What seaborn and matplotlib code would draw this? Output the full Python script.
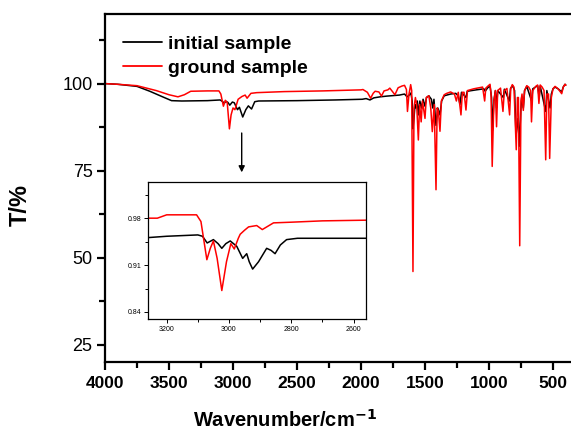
import numpy as np
import pandas as pd
import matplotlib
matplotlib.use("Agg")
import matplotlib.pyplot as plt
from matplotlib.ticker import FixedLocator
import seaborn as sns

# ---------------- data ----------------
initial_wn = [4000, 3900, 3750, 3650, 3550, 3480, 3400, 3200, 3100, 3080, 3070, 3055, 3040, 3025,
              3005, 2990, 2965, 2950, 2924, 2900, 2880, 2855, 2830, 2800, 2500, 2200, 1990, 1960,
              1930, 1900, 1850, 1800, 1700, 1660, 1640, 1620, 1610, 1600, 1594, 1586, 1578, 1570,
              1560, 1552, 1540, 1528, 1515, 1500, 1488, 1470, 1450, 1440, 1430, 1414, 1400, 1383,
              1370, 1350, 1300, 1260, 1240, 1227, 1215, 1180, 1170, 1100, 1040, 1030, 1010, 992,
              980, 972, 962, 950, 941, 932, 888, 880, 841, 832, 815, 800, 789, 780, 772, 763,
              752, 745, 732, 722, 705, 667, 658, 620, 608, 600, 557, 548, 523, 513, 500, 484,
              460, 432, 420, 406, 400]
initial_T = [100, 99.8, 99.2, 97.8, 96.2, 95.1, 95.0, 95.1, 95.3, 94.8, 94.3, 94.9, 94.6, 93.8,
             94.7, 94.5, 92.5, 93.2, 90.4, 92.5, 93.6, 92.7, 94.8, 95.0, 95.1, 95.3, 95.5, 95.7,
             95.3, 95.9, 96.2, 96.4, 96.7, 97.0, 96.2, 96.8, 97.3, 95.0, 87.0, 90.0, 94.0, 93.0,
             95.0, 91.0, 95.0, 93.0, 95.5, 93.5, 96.0, 96.5, 95.5, 93.0, 95.5, 88.0, 93.0, 91.0,
             95.0, 96.5, 97.0, 97.2, 96.5, 94.0, 97.5, 96.0, 97.8, 98.2, 98.5, 97.8, 98.8, 99.3,
             96.0, 86.6, 95.0, 98.0, 93.0, 98.0, 96.0, 98.4, 95.0, 98.6, 99.4, 98.0, 85.0, 88.0,
             90.0, 82.0, 92.0, 96.0, 93.0, 98.0, 99.2, 95.0, 98.5, 99.4, 96.0, 99.3, 92.0, 98.0,
             93.0, 97.0, 98.5, 99.0, 98.5, 97.6, 99.0, 99.8, 99.6]

ground_wn = [4000, 3900, 3750, 3600, 3500, 3430, 3380, 3330, 3200, 3110, 3095, 3075, 3060, 3045,
             3028, 3015, 3000, 2985, 2960, 2930, 2905, 2890, 2860, 2815, 2600, 2300, 2000, 1985,
             1950, 1925, 1905, 1890, 1860, 1840, 1820, 1790, 1775, 1750, 1735, 1710, 1680, 1660,
             1645, 1637, 1625, 1612, 1604, 1594, 1586, 1575, 1565, 1552, 1542, 1530, 1520, 1500,
             1490, 1470, 1455, 1443, 1428, 1414, 1405, 1395, 1383, 1372, 1350, 1330, 1300, 1270,
             1255, 1240, 1219, 1208, 1195, 1180, 1168, 1120, 1080, 1050, 1034, 1025, 1005, 992,
             984, 975, 962, 950, 941, 932, 910, 891, 880, 860, 839, 830, 818, 805, 787, 778,
             770, 760, 750, 742, 732, 722, 705, 690, 675, 668, 658, 635, 620, 610, 600, 585,
             570, 557, 548, 535, 526, 513, 500, 484, 460, 440, 432, 420, 406, 400]
ground_T = [100, 99.8, 99.4, 98.0, 96.8, 96.2, 96.8, 97.8, 97.9, 97.9, 97.0, 93.5, 95.2, 94.5,
            87.0, 91.0, 93.0, 92.5, 95.5, 96.3, 96.7, 95.8, 97.2, 97.4, 97.7, 97.9, 98.2, 98.3,
            97.5, 95.8, 97.2, 97.8, 97.6, 96.4, 97.9, 98.2, 98.7, 97.5, 96.8, 98.8, 99.3, 99.5,
            98.3, 92.0, 97.0, 99.7, 98.0, 46.0, 93.0, 96.0, 94.0, 83.8, 94.0, 89.0, 95.0, 90.0,
            96.0, 96.5, 93.0, 86.2, 94.0, 69.5, 93.0, 92.0, 86.3, 95.0, 96.8, 97.2, 97.6, 97.0,
            95.0, 97.5, 91.0, 97.5, 97.5, 92.4, 98.0, 98.5, 98.8, 99.0, 95.0, 98.7, 99.4, 99.8,
            97.0, 76.2, 95.0, 98.0, 87.6, 98.0, 98.7, 92.0, 98.0, 98.6, 91.0, 98.6, 99.7, 99.0,
            81.0, 96.0, 96.0, 53.4, 95.0, 97.0, 92.3, 98.0, 99.4, 99.0, 98.0, 89.0, 98.0, 99.2,
            99.6, 94.3, 99.6, 99.0, 98.0, 78.1, 97.0, 97.0, 78.5, 96.0, 98.5, 99.2, 98.5, 97.5,
            97.1, 99.0, 99.8, 99.5]

# inset (2560-3260 cm-1)
inset_initial_wn = [3260, 3200, 3100, 3085, 3070, 3050, 3035, 3023, 3010, 2996, 2975, 2956, 2943,
                    2935, 2924, 2905, 2879, 2865, 2852, 2835, 2815, 2780, 2700, 2560]
inset_initial_T = [0.951, 0.953, 0.955, 0.953, 0.943, 0.948, 0.942, 0.935, 0.942, 0.946, 0.938,
                   0.920, 0.927, 0.915, 0.904, 0.915, 0.935, 0.932, 0.927, 0.940, 0.948, 0.950,
                   0.950, 0.950]
inset_ground_wn = [3260, 3230, 3200, 3150, 3104, 3090, 3080, 3071, 3060, 3050, 3038, 3023, 3008,
                   2994, 2983, 2970, 2964, 2950, 2937, 2911, 2893, 2875, 2857, 2800, 2700, 2560]
inset_ground_T = [0.980, 0.980, 0.985, 0.985, 0.985, 0.975, 0.945, 0.918, 0.935, 0.946, 0.920,
                  0.872, 0.915, 0.942, 0.934, 0.950, 0.956, 0.962, 0.967, 0.969, 0.963, 0.968,
                  0.973, 0.974, 0.976, 0.977]

labels = ["initial sample", "ground sample"]
colors = {"initial sample": "black", "ground sample": "#ff0000"}

main_df = pd.concat([
    pd.DataFrame({"wn": initial_wn, "T": initial_T, "sample": labels[0]}),
    pd.DataFrame({"wn": ground_wn, "T": ground_T, "sample": labels[1]}),
], ignore_index=True)
inset_df = pd.concat([
    pd.DataFrame({"wn": inset_initial_wn, "T": inset_initial_T, "sample": labels[0]}),
    pd.DataFrame({"wn": inset_ground_wn, "T": inset_ground_T, "sample": labels[1]}),
], ignore_index=True)

# ---------------- figure ----------------
sns.set_style("ticks")
plt.rcParams["font.family"] = ["Liberation Sans", "DejaVu Sans"]
plt.rcParams.update({"text.color": "black", "axes.labelcolor": "black",
                     "xtick.color": "black", "ytick.color": "black",
                     "axes.edgecolor": "black"})

W, H = 571, 432
fig = plt.figure(figsize=(W / 100, H / 100), dpi=100)
ax = fig.add_axes([105 / W, 1 - 362 / H, 467.2 / W, 348 / H])

sns.lineplot(data=main_df, x="wn", y="T", hue="sample", hue_order=labels, palette=colors,
             estimator=None, sort=False, lw=1.1, ax=ax, legend=False)

ax.set_xlim(4000, 350)
ax.set_ylim(20, 120)
ax.xaxis.set_major_locator(FixedLocator([4000, 3500, 3000, 2500, 2000, 1500, 1000, 500]))
ax.xaxis.set_minor_locator(FixedLocator([3750, 3250, 2750, 2250, 1750, 1250, 750]))
ax.yaxis.set_major_locator(FixedLocator([25, 50, 75, 100]))
ax.yaxis.set_minor_locator(FixedLocator([37.5, 62.5, 87.5, 112.5]))
for s in ax.spines.values():
    s.set_linewidth(1.6)
    s.set_color("black")
ax.tick_params(which="major", direction="out", length=6, width=1.6, top=False, right=False,
               colors="black")
ax.tick_params(which="minor", direction="out", length=4, width=1.6, top=False, right=False,
               colors="black")
ax.tick_params(axis="x", labelsize=12.5, pad=4)
ax.tick_params(axis="y", labelsize=13, pad=3)
for t in ax.get_xticklabels():
    t.set_fontweight("bold")

ax.set_xlabel("Wavenumber/cm$^{\\mathbf{-1}}$", fontsize=14.5, fontweight="bold", color="black")
ax.xaxis.set_label_coords((285 - 105) / 467.2, -(409 - 362) / 348)
ax.set_ylabel("T/%", fontsize=17, fontweight="bold", color="black")
ax.yaxis.set_label_coords((32 - 105) / 467.2, (362 - 205) / 348)

handles = [plt.Line2D([], [], color=colors[l], lw=1.3) for l in labels]
leg = ax.legend(handles, labels, loc="upper left",
                bbox_to_anchor=((123 - 105) / 467.2, (362 - 35) / 348),
                frameon=False, borderpad=0, borderaxespad=0, handlelength=2.0,
                handletextpad=0.3, labelspacing=0.35,
                prop={"size": 14, "weight": "bold"})
for t in leg.get_texts():
    t.set_color("black")

ax.annotate("", xy=(2932, 73.7), xytext=(2932, 86.6),
            arrowprops=dict(arrowstyle="-|>", color="black", lw=1.0, mutation_scale=9))

# ---------------- inset ----------------
axin = fig.add_axes([148 / W, 1 - 319 / H, 218 / W, 137 / H])
sns.lineplot(data=inset_df, x="wn", y="T", hue="sample", hue_order=labels, palette=colors,
             estimator=None, sort=False, lw=1.1, ax=axin, legend=False)
axin.set_xlim(3260, 2560)
axin.set_ylim(0.8295, 1.034)
axin.xaxis.set_major_locator(FixedLocator([3200, 3000, 2800, 2600]))
axin.xaxis.set_minor_locator(FixedLocator([3100, 2900, 2700]))
axin.yaxis.set_major_locator(FixedLocator([0.84, 0.91, 0.98]))
axin.yaxis.set_minor_locator(FixedLocator([0.875, 0.945, 1.015]))
axin.set_yticklabels(["0.84", "0.91", "0.98"])
axin.set_xlabel("")
axin.set_ylabel("")
for s in axin.spines.values():
    s.set_linewidth(0.9)
    s.set_color("black")
axin.tick_params(which="both", direction="out", width=0.7, labelsize=5, pad=2, colors="black")
axin.tick_params(which="major", length=3)
axin.tick_params(which="minor", length=2)

fig.savefig("out.png", dpi=100)
